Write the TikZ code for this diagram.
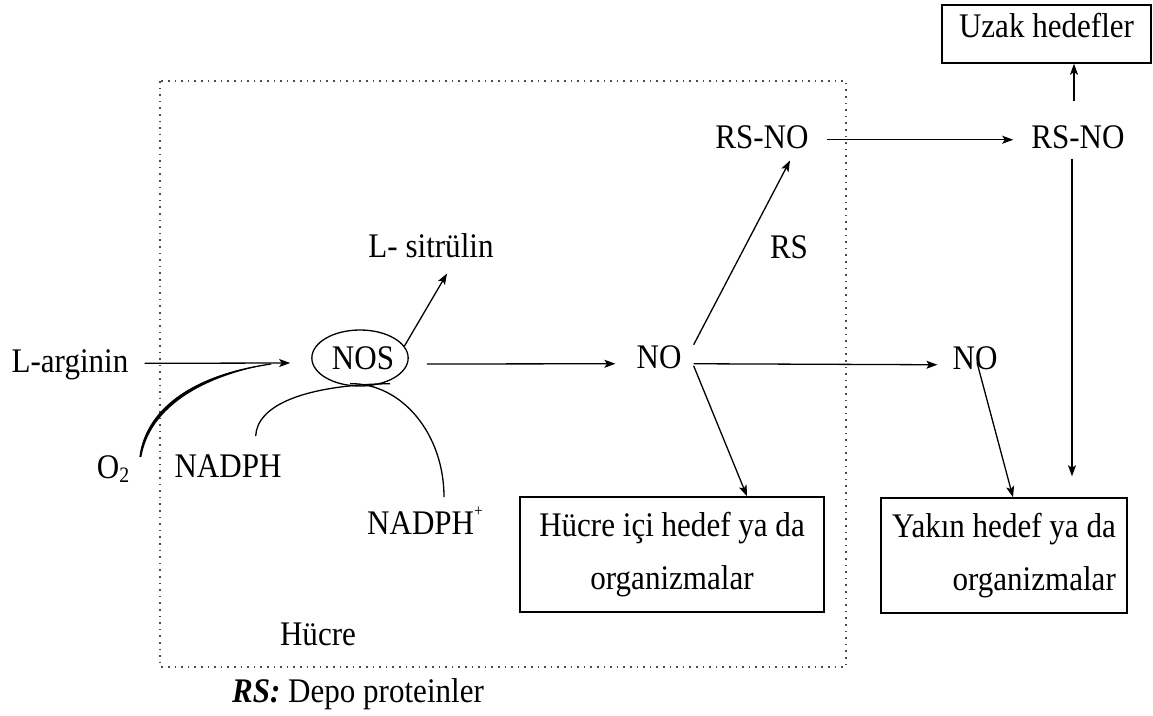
\documentclass[tikz,border=0pt]{standalone}
\usepackage{fontspec}
\setmainfont{Liberation Serif}[FakeStretch=0.9]
\usetikzlibrary{arrows.meta,calc,shapes.geometric}
\tikzset{
  txt/.style={anchor=base, inner sep=0pt},
  arr/.style={line width=1.3pt, -{Stealth[length=11pt,width=8pt,inset=2.5pt]}},
  conn/.style={line width=1.3pt},
  tbox/.style={draw, line width=1.5pt, rectangle, inner sep=5pt},
  cellline/.style={line width=1.6pt, black!70, dash pattern=on 1.6pt off 5pt},
}
\begin{document}
\begin{tikzpicture}[x=1pt, y=-1pt, font=\fontsize{34.5}{53}\selectfont]
\useasboundingbox[fill=white] (0,0) rectangle (1153,715);

% cell boundary
\draw[cellline] (160,81) rectangle (846,667);

% nodes
\node[txt] (larg) at (70,372) {L-arginin};
\node[draw, ellipse, line width=1.3pt, minimum width=94pt, minimum height=56pt, inner sep=0pt] (nos) at (360,358) {\hspace{6pt}NOS};
\node[txt] (cit) at (431,257) {L- sitrülin};
\node[txt] (no1) at (659,368) {NO};
\node[txt] (no2) at (975,369) {NO};
\node[txt] (rsno1) at (762,148) {RS-NO};
\node[txt] (rsno2) at (1078,148) {RS-NO};
\node[txt] (rs) at (789,258) {RS};
\node[txt] (o2) at (113,478) {O\raisebox{-0.12em}{\fontsize{22}{22}\selectfont 2}};
\node[txt] (nadph) at (228,477) {NADPH};
\node[txt] (nadphp) at (425,534) {NADPH\raisebox{0.5em}{\fontsize{17}{17}\selectfont +}};
\node[tbox, align=center, minimum width=304pt, minimum height=115pt] (hbox) at (672,554.5) {Hücre içi hedef ya da\\organizmalar};
\node[tbox, align=right, minimum width=246pt, minimum height=115pt] (ybox) at (1004,555.5) {Yakın hedef ya da\\organizmalar};
\node[tbox, inner sep=4pt, minimum width=209pt, text height=28pt, text depth=22pt] (ubox) at (1046.5,34) {Uzak hedefler};
\node[txt] (cell) at (318,645) {Hücre};
\node[txt] (leg) at (358,702) {\textbf{\textit{RS:}} Depo proteinler};

\coordinate (arcend) at (444,497);

% L-arginin -> NOS
\draw[arr] ($(larg.east)+(16,-1)$) -- ($(nos.west)+(-21,5)$);
% O2 tapered curve
\coordinate (o2s) at ($(o2.north east)+(11,2)$);
\coordinate (o2e) at ($(nos.west)+(-40,6)$);
\fill ($(o2s)+(-1,0)$) .. controls (146,405) and (200,373) .. (o2e)
      .. controls (203,376) and (150,407) .. ($(o2s)+(1,0)$) -- cycle;
\draw[line width=1.2pt] (o2s) .. controls (147,405) and (200,374) .. (o2e);
% NADPH curve
\draw[conn] ($(nadph.north east)+(-26,-18)$) .. controls (257,405) and (305,385) .. ($(nos.south)+(30,-3)$);
% NADPH+ curve
\draw[conn] ($(nos.south)+(-10,-3)$) .. controls (402,383) and (444,434) .. (arcend);
% NOS -> L-sitrulin
\draw[arr] (nos.15) -- ($(cit.south)+(16,16)$);
% NOS -> NO
\draw[arr] ($(nos.east)+(18,6)$) -- ($(no1.west)+(-21,7)$);
% NO -> RS-NO
\draw[arr] ($(no1.east)+(12,-12)$) -- ($(rsno1.south)+(28,12)$);
% NO -> NO
\draw[arr] ($(no1.east)+(12,7)$) -- ($(no2.west)+(-15,7)$);
% NO -> Hucre ici
\draw[arr] ($(no1.east)+(12,9)$) -- ($(hbox.north)+(75,0)$);
% RS-NO -> RS-NO
\draw[arr] ($(rsno1.east)+(18,3)$) -- ($(rsno2.west)+(-18,3)$);
% RS-NO -> Uzak hedefler
\coordinate (u0) at ($(rsno2.north)+(-4,-24)$);
\draw[arr] (u0) -- (u0 |- ubox.south);
% RS-NO -> down
\coordinate (d0) at ($(rsno2.south)+(-6,10)$);
\coordinate (d1) at ($(ybox.north)+(0,-21)$);
\draw[arr] (d0) -- (d0 |- d1);
% NO -> Yakin
\draw[arr] ($(no2.south)+(2,-7)$) -- ($(ybox.north)+(9,0)$);
\end{tikzpicture}
\end{document}
